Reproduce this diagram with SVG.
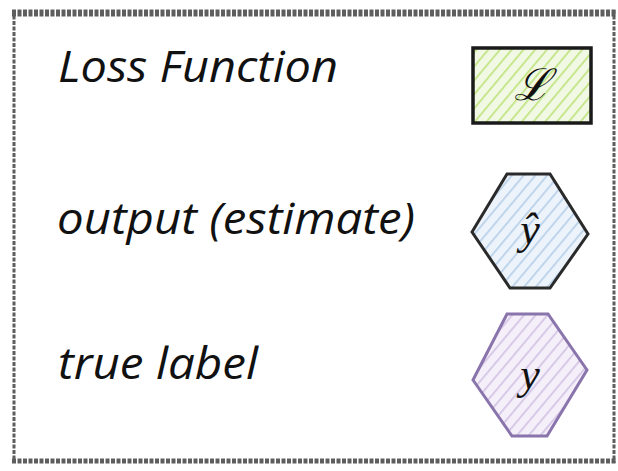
<svg xmlns="http://www.w3.org/2000/svg" width="618" height="471" viewBox="0 0 618 471">
<style>
.lbl{font-family:"Open Sans","DejaVu Sans",sans-serif;font-style:italic;font-size:43px;fill:#111}
.math{font-family:"Liberation Serif","DejaVu Serif",serif;font-style:italic;font-size:44px;fill:#111}
.frame{fill:none;stroke:#5e5e5e;stroke-dasharray:4 1.5}
</style>
<defs>
<pattern id="hg" width="9" height="9" patternUnits="userSpaceOnUse" patternTransform="rotate(40)">
<rect width="9" height="9" fill="#f1f9e4"/>
<line x1="0" y1="0" x2="0" y2="9" stroke="#c2e483" stroke-width="3.5"/>
</pattern>
<pattern id="hb" width="9" height="9" patternUnits="userSpaceOnUse" patternTransform="rotate(40)">
<rect width="9" height="9" fill="#edf3fa"/>
<line x1="0" y1="0" x2="0" y2="9" stroke="#b9d1ea" stroke-width="3.5"/>
</pattern>
<pattern id="hp" width="9" height="9" patternUnits="userSpaceOnUse" patternTransform="rotate(40)">
<rect width="9" height="9" fill="#f4eff9"/>
<line x1="0" y1="0" x2="0" y2="9" stroke="#d4c5e5" stroke-width="3.5"/>
</pattern>
</defs>
<rect width="618" height="471" fill="#ffffff"/>
<g id="frame">
<line class="frame" x1="12" y1="13" x2="616" y2="13" stroke-width="7"/>
<line class="frame" x1="14" y1="10" x2="14" y2="463" stroke-width="3"/>
<line class="frame" x1="614" y1="10" x2="614" y2="463" stroke-width="3"/>
<line class="frame" x1="12" y1="461" x2="616" y2="461" stroke-width="5"/>
</g>
<g id="label-loss"><text class="lbl" x="58" y="82" textLength="280" lengthAdjust="spacingAndGlyphs">Loss Function</text></g>
<g id="label-output"><text class="lbl" x="57" y="234" textLength="358" lengthAdjust="spacingAndGlyphs">output (estimate)</text></g>
<g id="label-true"><text class="lbl" x="58" y="379" textLength="200" lengthAdjust="spacingAndGlyphs">true label</text></g>
<g id="node-loss">
<rect x="473" y="48" width="118" height="75" fill="url(#hg)" stroke="#1a1a1a" stroke-width="3.5"/>
<text class="math" x="532" y="100" text-anchor="middle">ℒ</text>
</g>
<g id="node-yhat">
<polygon points="472,232 507,174 550,174 588,234 550,288 510,288" fill="url(#hb)" stroke="#2a2a2a" stroke-width="3"/>
<text class="math" x="530" y="244" text-anchor="middle">ŷ</text>
</g>
<g id="node-y">
<polygon points="473,380 507,314 548,314 587,370 547,436 512,436" fill="url(#hp)" stroke="#8a74ac" stroke-width="3"/>
<text class="math" x="530" y="389" text-anchor="middle">y</text>
</g>
<g id="connectors"></g>
</svg>
